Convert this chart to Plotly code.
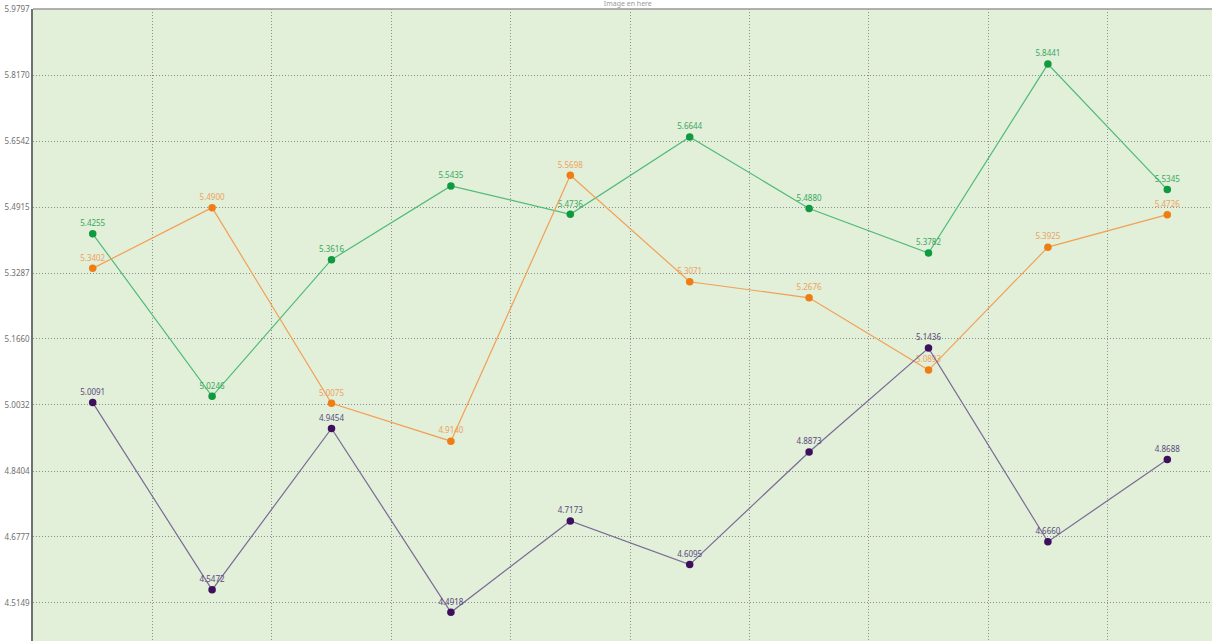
import plotly.graph_objects as go

categories = ["1", "2", "3", "4", "5", "6", "7", "8", "9", "10"]
green_vals = [5.4255, 5.0246, 5.3616, 5.5435, 5.4736, 5.6644, 5.4880, 5.3782, 5.8441, 5.5345]
orange_vals = [5.3402, 5.4900, 5.0075, 4.9140, 5.5698, 5.3071, 5.2676, 5.0893, 5.3925, 5.4726]
purple_vals = [5.0091, 4.5472, 4.9454, 4.4918, 4.7173, 4.6095, 4.8873, 5.1436, 4.6660, 4.8688]
y_ticks = [5.9797, 5.8170, 5.6542, 5.4915, 5.3287, 5.1660, 5.0032, 4.8404, 4.6777, 4.5149]
y_tick_labels = ["5.9797", "5.8170", "5.6542", "5.4915", "5.3287", "5.1660", "5.0032", "4.8404", "4.6777", "4.5149"]
title_text = "Image en here"

x = list(range(len(categories)))

series = [
    (green_vals, "#50bb78", "#0f9a3f", "#3aa860"),
    (orange_vals, "#f2a055", "#f07c14", "#eea25e"),
    (purple_vals, "#7a6a96", "#3d0f5c", "#5a4a7e"),
]

fig = go.Figure()
for vals, lc, mc, tc in series:
    fig.add_trace(go.Scatter(
        x=x, y=vals, mode="lines+markers+text",
        text=[f"{v:.4f}" for v in vals],
        textposition="top center",
        textfont=dict(size=8, color=tc, family="Noto Sans"),
        line=dict(color=lc, width=1.2),
        marker=dict(color=mc, size=7.5),
        cliponaxis=False,
        showlegend=False,
    ))

fig.update_layout(
    width=1212, height=641,
    margin=dict(l=33, r=0, t=9, b=0, autoexpand=False),
    paper_bgcolor="white",
    plot_bgcolor="#e2efd9",
    title=dict(text=title_text, x=0.518, y=0.999, yanchor="top", xanchor="center",
               automargin=False,
               font=dict(size=7, color="#999999", family="Noto Sans")),
    xaxis=dict(
        range=[-0.5, -0.5 + (1212 - 33) / 119.4],
        tickvals=[i + 0.5 for i in range(9)],
        showticklabels=False, ticks="",
        showgrid=True, gridcolor="#8f8f8f", griddash="1px,2px", gridwidth=1,
        zeroline=False, showline=False, automargin=False,
    ),
    yaxis=dict(
        range=[4.4211, 5.9799],
        tickvals=y_ticks, ticktext=y_tick_labels,
        tickfont=dict(size=8, color="#707070", family="Noto Sans"),
        ticks="", ticklen=0,
        showgrid=True, gridcolor="#8f8f8f", griddash="1px,2px", gridwidth=1,
        zeroline=False, showline=True, linecolor="#707070", linewidth=1.5,
        automargin=False,
    ),
    shapes=[dict(type="line", xref="paper", yref="paper", x0=0, x1=1, y0=1, y1=1,
                 line=dict(color="#999999", width=1.5))],
)

fig.write_html("out.html",
               config={"displayModeBar": False},
               post_script="document.body.style.margin='0px';document.body.style.overflow='hidden';")
